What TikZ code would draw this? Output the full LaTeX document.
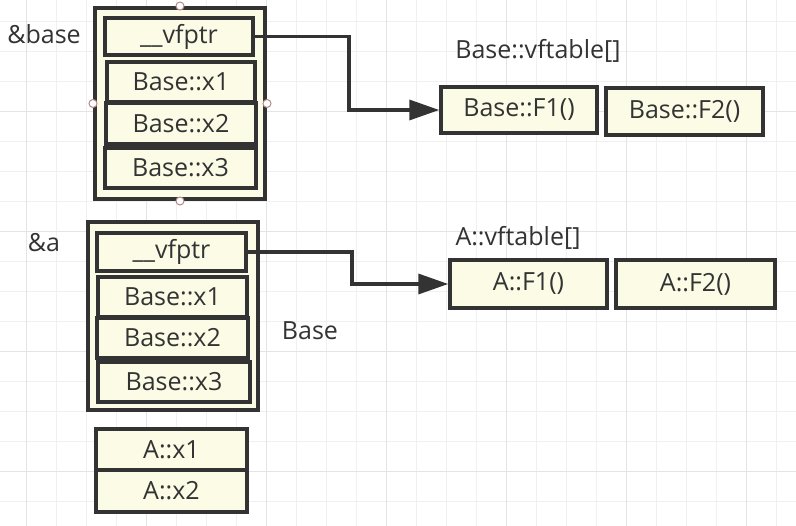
\documentclass[tikz,border=0pt]{standalone}
\usepackage{fontspec}
\setmainfont{Open Sans}
\usetikzlibrary{arrows.meta, positioning}
\definecolor{cellfill}{HTML}{FBFBE6}
\definecolor{celldraw}{HTML}{333333}
\definecolor{gridminor}{HTML}{F0F0F0}
\definecolor{gridmajor}{HTML}{E4E4E4}
\definecolor{handlepink}{HTML}{B58A8A}
\tikzset{
	cellnode/.style={
			shape=rectangle,
			draw=celldraw,
			fill=cellfill,
			line width=3.5pt,
			text=celldraw,
			inner sep=0pt,
			font=\fontsize{25}{29}\selectfont
		},
	objnode/.style={
			cellnode,
			line width=4pt
		},
	labelnode/.style={
			text=celldraw,
			inner sep=0pt,
			font=\fontsize{25}{29}\selectfont
		},
	handlenode/.style={
			circle,
			draw=handlepink,
			fill=white,
			line width=1pt,
			minimum size=8pt,
			inner sep=0pt
		},
	linkline/.style={
			draw=celldraw,
			line width=3.5pt,
			-{Triangle[length=30pt, width=20pt]}
		}
}

\begin{document}
\begin{tikzpicture}[x=1pt, y=-1pt]

  \useasboundingbox (0,0) rectangle (796,526);
  \fill[white] (0,0) rectangle (796,526);

  % grid
  \foreach \gx in {26,56,...,796} {
    \draw[gridminor, line width=1pt] (\gx,0) -- (\gx,526);
  }
  \foreach \gy in {22,52,...,526} {
    \draw[gridminor, line width=1pt] (0,\gy) -- (796,\gy);
  }
  \foreach \gx in {26,146,...,796} {
    \draw[gridmajor, line width=1pt] (\gx,0) -- (\gx,526);
  }
  \foreach \gy in {112,232,...,526} {
    \draw[gridmajor, line width=1pt] (0,\gy) -- (796,\gy);
  }

  % object base
  \node[objnode, minimum width=170pt, minimum height=191pt] (baseobj) at (180,103.5) {};
  \node[cellnode, minimum width=148pt, minimum height=37pt] (bvfptr) at (179,36.5) {\_\_vfptr};
  \node[cellnode, minimum width=148pt, minimum height=40pt] (bx1) at (181,82) {Base::x1};
  \node[cellnode, minimum width=150pt, minimum height=41pt] (bx2) at (181,123.5) {Base::x2};
  \node[cellnode, minimum width=151pt, minimum height=40pt] (bx3) at (180.5,168) {Base::x3};

  \node[handlenode] (hn) at (baseobj.north) {};
  \node[handlenode] (hs) at (baseobj.south) {};
  \node[handlenode] (hw) at (baseobj.west) {};
  \node[handlenode] (he) at (baseobj.east) {};

  \node[labelnode] (lbase) at (44,34) {\&base};

  % object a
  \node[objnode, minimum width=170pt, minimum height=188pt] (aobj) at (173,316) {};
  \node[cellnode, minimum width=149pt, minimum height=38pt] (avfptr) at (171.5,252) {\_\_vfptr};
  \node[cellnode, minimum width=149pt, minimum height=40pt] (ax1) at (172.5,297) {Base::x1};
  \node[cellnode, minimum width=151pt, minimum height=40pt] (ax2) at (172.5,338) {Base::x2};
  \node[cellnode, minimum width=152pt, minimum height=40pt] (ax3) at (174,382) {Base::x3};
  \node[cellnode, minimum width=151pt, minimum height=41pt] (aa1) at (171.5,449.5) {A::x1};
  \node[cellnode, minimum width=151pt, minimum height=42pt] (aa2) at (171.5,491) {A::x2};

  \node[labelnode] (la) at (44,243) {\&a};
  \node[labelnode] (lbasepart) at (310,331) {Base};

  % vftables
  \node[labelnode] (lbvft) at (538,51) {Base::vftable[]};
  \node[cellnode, minimum width=156pt, minimum height=46pt] (bf1) at (519,110) {Base::F1()};
  \node[cellnode, minimum width=157pt, minimum height=47pt] (bf2) at (684.5,111.5) {Base::F2()};

  \node[labelnode] (lavft) at (518,238) {A::vftable[]};
  \node[cellnode, minimum width=157pt, minimum height=48pt] (af1) at (528.5,284) {A::F1()};
  \node[cellnode, minimum width=159pt, minimum height=48pt] (af2) at (695.5,284) {A::F2()};

  \draw[linkline] (bvfptr.east) -- ++(94,0) |- (bf1.west);
  \draw[linkline] (avfptr.east) -- ++(104,0) |- (af1.west);

\end{tikzpicture}
\end{document}
